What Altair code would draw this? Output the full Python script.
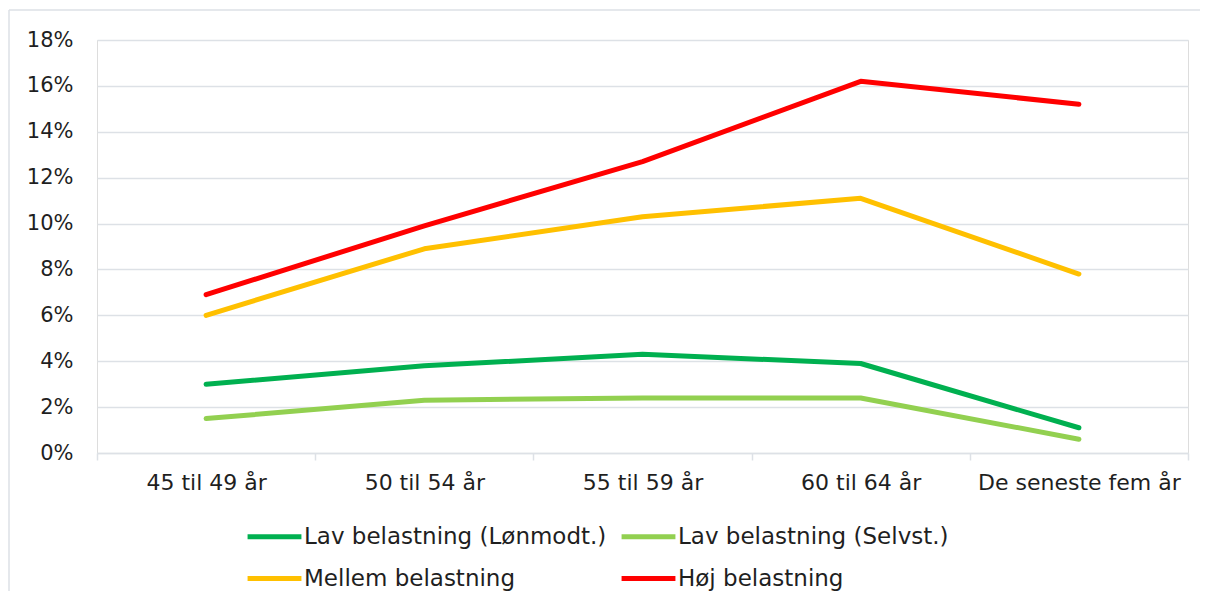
import altair as alt
import pandas as pd

categories = ["45 til 49 år", "50 til 54 år", "55 til 59 år", "60 til 64 år", "De seneste fem år"]
series = ["Lav belastning (Lønmodt.)", "Mellem belastning", "Lav belastning (Selvst.)", "Høj belastning"]
colors = ["#00b050", "#ffc000", "#92d050", "#ff0000"]

lav_lon = [3.0, 3.8, 4.3, 3.9, 1.1]
mellem = [6.0, 8.9, 10.3, 11.1, 7.8]
lav_selv = [1.5, 2.3, 2.4, 2.4, 0.6]
hoj = [6.9, 9.9, 12.7, 16.2, 15.2]

values = [lav_lon, mellem, lav_selv, hoj]
rows = []
for s, vals in zip(series, values):
    for c, v in zip(categories, vals):
        rows.append({"cat": c, "serie": s, "v": v})
df = pd.DataFrame(rows)

FONT = "DejaVu Sans"
TXT = "#1f1f1f"
GRID = "#dde1e6"
W, H = 1091, 413

lines = alt.Chart(df).mark_line(strokeWidth=5, strokeCap="round", strokeJoin="round").encode(
    x=alt.X("cat:N", sort=categories,
            scale=alt.Scale(type="band", paddingInner=0, paddingOuter=0),
            axis=alt.Axis(title=None, labelAngle=0, tickBand="extent", tickSize=7,
                          tickColor=GRID, domainColor=GRID, domainWidth=1.5, tickWidth=1.5,
                          labelPadding=12, labelFont=FONT, labelFontSize=22, labelColor=TXT,
                          labelLimit=400, grid=False)),
    y=alt.Y("v:Q", scale=alt.Scale(domain=[0, 18]),
            axis=alt.Axis(title=None, values=list(range(0, 19, 2)), labelExpr="datum.value + '%'",
                          domain=False, ticks=False, labelPadding=24, gridColor=GRID, gridWidth=1.5,
                          labelFont=FONT, labelFontSize=21, labelColor=TXT)),
    color=alt.Color("serie:N", sort=series,
                    scale=alt.Scale(domain=series, range=colors),
                    legend=alt.Legend(title=None, orient="none", legendX=148, legendY=467,
                                      columns=2, symbolType="stroke", symbolSize=2900,
                                      symbolStrokeWidth=5, labelFont=FONT, labelFontSize=23,
                                      labelColor=TXT, labelOffset=0, rowPadding=-6,
                                      columnPadding=4, labelLimit=400)),
)

edge = pd.DataFrame({"a": [0]})
frame_top = alt.Chart(edge).mark_rule(stroke="#dde1e6", strokeWidth=1.5).encode(
    x=alt.value(-88), x2=alt.value(W + 300), y=alt.value(-30)
)
frame_left = alt.Chart(edge).mark_rule(stroke="#dde1e6", strokeWidth=1.5).encode(
    x=alt.value(-88), y=alt.value(-30), y2=alt.value(H + 300)
)

chart = alt.layer(frame_top, frame_left, lines).properties(
    width=W, height=H, autosize=alt.AutoSizeParams(type="none"),
    padding={"left": 89, "top": 32, "right": 12, "bottom": 138}
).configure_view(stroke=None).configure(background="white")

chart.save("out.html", embed_options={"renderer": "svg", "actions": False})
